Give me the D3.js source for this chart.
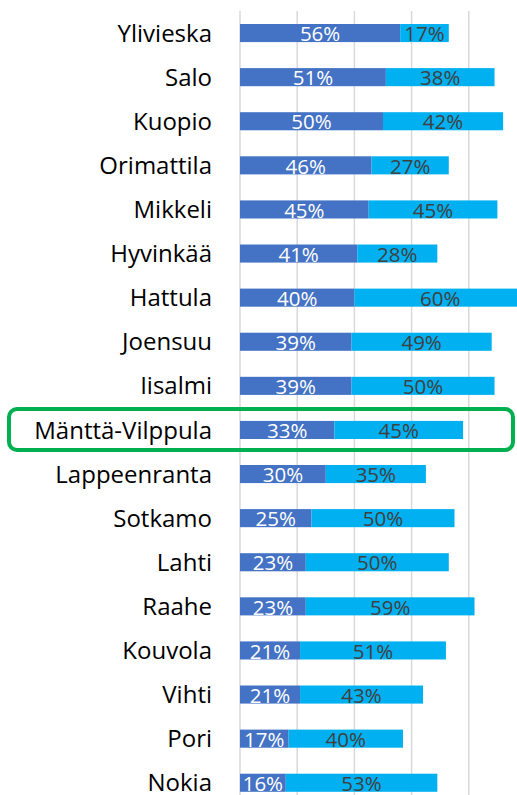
<!DOCTYPE html>
<html lang="fi">
<head>
<meta charset="UTF-8">
<script src="https://d3js.org/d3.v7.min.js"></script>
<style>
  body { margin: 0; padding: 0; background: #fff; }
  svg { display: block; }
  .cat { font-family: "Open Sans", "Noto Sans", sans-serif; font-size: 24px; fill: #000; }
  .val { font-family: "Open Sans", "Noto Sans", sans-serif; font-size: 20.5px; }
</style>
</head>
<body>
<div id="chart"></div>
<script>
// kunnat ja osuudet (%)
const kunnat = ["Ylivieska", "Salo", "Kuopio", "Orimattila", "Mikkeli", "Hyvinkää", "Hattula",
  "Joensuu", "Iisalmi", "Mänttä-Vilppula", "Lappeenranta", "Sotkamo", "Lahti", "Raahe",
  "Kouvola", "Vihti", "Pori", "Nokia"];
const sarja1 = [56, 51, 50, 46, 45, 41, 40, 39, 39, 33, 30, 25, 23, 23, 21, 21, 17, 16];
const sarja2 = [17, 38, 42, 27, 45, 28, 60, 49, 50, 45, 35, 50, 50, 59, 51, 43, 40, 53];
const gridTicks = [0, 20, 40, 60, 80, 100];
const korostus = "Mänttä-Vilppula";

const W = 517, H = 795;
const m = { left: 240, top: 11 };

const svg = d3.select("#chart").append("svg")
  .attr("width", W).attr("height", H);

const x = d3.scaleLinear().domain([0, 100]).range([m.left, m.left + 286]);
const y = d3.scaleBand().domain(kunnat).range([m.top, m.top + 18 * 44.1]).paddingInner(0.59).paddingOuter(0.295);

// pystyviivat
svg.append("g").selectAll("line").data(gridTicks).enter().append("line")
  .attr("x1", d => x(d)).attr("x2", d => x(d))
  .attr("y1", m.top).attr("y2", H + 20)
  .attr("stroke", "#d9d9d9").attr("stroke-width", 1.5);

const rows = kunnat.map((k, i) => ({ k: k, a: sarja1[i], b: sarja2[i] }));

const g = svg.append("g").selectAll("g").data(rows).enter().append("g");

g.append("rect")
  .attr("x", x(0)).attr("y", d => y(d.k))
  .attr("width", d => x(d.a) - x(0)).attr("height", y.bandwidth())
  .attr("fill", "#4472c4");

g.append("rect")
  .attr("x", d => x(d.a)).attr("y", d => y(d.k))
  .attr("width", d => x(d.a + d.b) - x(d.a)).attr("height", y.bandwidth())
  .attr("fill", "#00b0f0");

g.append("text").attr("class", "val")
  .attr("x", d => (x(0) + x(d.a)) / 2).attr("y", d => y(d.k) + y.bandwidth() / 2)
  .attr("dy", "0.4em").attr("text-anchor", "middle").attr("fill", "#fff")
  .text(d => d.a + "%");

g.append("text").attr("class", "val")
  .attr("x", d => (x(d.a) + x(d.a + d.b)) / 2).attr("y", d => y(d.k) + y.bandwidth() / 2)
  .attr("dy", "0.4em").attr("text-anchor", "middle").attr("fill", "#404040")
  .text(d => d.b + "%");

// kuntien nimet
g.append("text").attr("class", "cat")
  .attr("x", 212).attr("y", d => y(d.k) + y.bandwidth() / 2)
  .attr("dy", "0.36em").attr("text-anchor", "end")
  .text(d => d.k);

// vihreä korostuslaatikko
const yk = y(korostus) + y.bandwidth() / 2;
svg.append("rect")
  .attr("x", 9).attr("y", yk - 21)
  .attr("width", 504).attr("height", 41)
  .attr("rx", 8).attr("ry", 8)
  .attr("fill", "none").attr("stroke", "#00b050").attr("stroke-width", 4);
</script>
</body>
</html>
